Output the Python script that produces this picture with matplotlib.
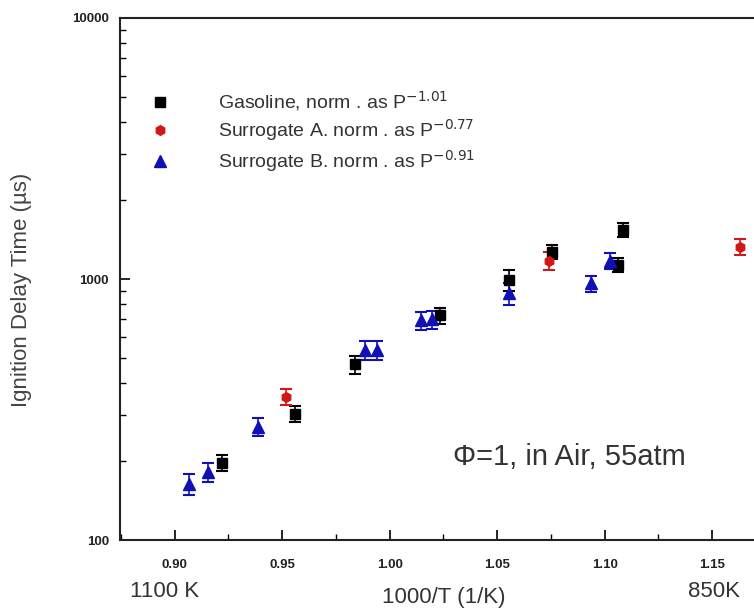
import numpy as np
import matplotlib
matplotlib.use("Agg")
import matplotlib.pyplot as plt
from matplotlib.lines import Line2D
from matplotlib.ticker import MultipleLocator, LogLocator, NullFormatter, FixedFormatter, FixedLocator

plt.rcParams['font.family'] = ['Liberation Sans', 'DejaVu Sans']

# 1000/T (1/K) and ignition delay (us)
gas_x = [0.9222, 0.956, 0.9838, 1.0234, 1.0554, 1.0756, 1.1063, 1.1086]
gas_y = [198, 304, 471, 726, 991, 1274, 1132, 1543]
gas_err = [0.07, 0.07, 0.08, 0.07, 0.09, 0.06, 0.06, 0.06]

surA_x = [0.9518, 1.0743, 1.1628]
surA_y = [353, 1173, 1328]
surA_err = [0.07, 0.08, 0.07]

surB_x = [0.9066, 0.9156, 0.9386, 0.9885, 0.994, 1.0144, 1.0196, 1.0554, 1.0935, 1.1026]
surB_y = [164, 182, 272, 534, 534, 694, 700, 881, 962, 1173]
surB_err = [0.09, 0.08, 0.08, 0.08, 0.08, 0.08, 0.08, 0.10, 0.07, 0.07]

labels = [r'Gasoline, norm . as P$^{-1.01}$',
          r'Surrogate A. norm . as P$^{-0.77}$',
          r'Surrogate B. norm . as P$^{-0.91}$']
colors = ['black', '#d01818', '#1010b4']
markers = ['s', 'h', '^']
msizes = [7, 7, 9]

fig = plt.figure(figsize=(7.54, 6.12), dpi=100)
ax = fig.add_axes([0.159, 0.1176, 0.841, 0.853])

sets = [(gas_x, gas_y, gas_err), (surA_x, surA_y, surA_err), (surB_x, surB_y, surB_err)]
for (x, y, err), c, m, ms in zip(sets, colors, markers, msizes):
    y = np.array(y, dtype=float)
    ax.errorbar(x, y, yerr=np.array(err) * y, fmt=m, color=c, ms=ms, capsize=4,
                elinewidth=1.2, capthick=1.5, ls='none')

ax.set_yscale('log')
ax.set_ylim(100, 10000)
ax.set_xlim(0.8745, 1.1695)

xt = [0.90, 0.95, 1.00, 1.05, 1.10, 1.15]
ax.set_xticks(xt)
ax.set_xticklabels(['%.2f' % v for v in xt])
ax.xaxis.set_minor_locator(MultipleLocator(0.025))
ax.yaxis.set_major_locator(FixedLocator([100, 1000, 10000]))
ax.yaxis.set_major_formatter(FixedFormatter(['100', '1000', '10000']))
ax.yaxis.set_minor_locator(LogLocator(base=10, subs=np.arange(2, 10)))
ax.yaxis.set_minor_formatter(NullFormatter())

ax.tick_params(which='both', direction='in', labelsize=9.5, labelcolor='#222222')
ax.tick_params(which='major', length=7, width=1.2)
ax.tick_params(which='minor', length=4, width=1)
ax.tick_params(axis='x', pad=14)
ax.tick_params(axis='y', pad=8)
for lab in ax.get_xticklabels() + ax.get_yticklabels():
    lab.set_fontweight('bold')

ax.spines['right'].set_visible(False)
for s in ['left', 'bottom', 'top']:
    ax.spines[s].set_linewidth(1.5)
    ax.spines[s].set_color('#222222')

ax.set_ylabel('Ignition Delay Time (\u00b5s)', fontsize=16, color='#444444')
ax.yaxis.set_label_coords(-0.139, 0.48)

handles = [Line2D([], [], ls='none', marker=m, color=c, ms=ms)
           for c, m, ms in zip(colors, markers, msizes)]
leg = ax.legend(handles, labels, loc='upper left', bbox_to_anchor=(0.017, 0.897), frameon=False,
                fontsize=14, labelspacing=0.22, handletextpad=2.4, handlelength=1.2)
for t in leg.get_texts():
    t.set_color('#333333')

ax.text(0.525, 0.159, '\u03a6=1, in Air, 55atm', transform=ax.transAxes,
        fontsize=21, color='#333333', va='center')

fig.text(0.172, 0.033, '1100 K', fontsize=16, color='#333333', va='center')
fig.text(0.588, 0.023, '1000/T (1/K)', fontsize=16, color='#333333', ha='center', va='center')
fig.text(0.912, 0.033, '850K', fontsize=16, color='#333333', va='center')

fig.savefig('out.png', dpi=100)
